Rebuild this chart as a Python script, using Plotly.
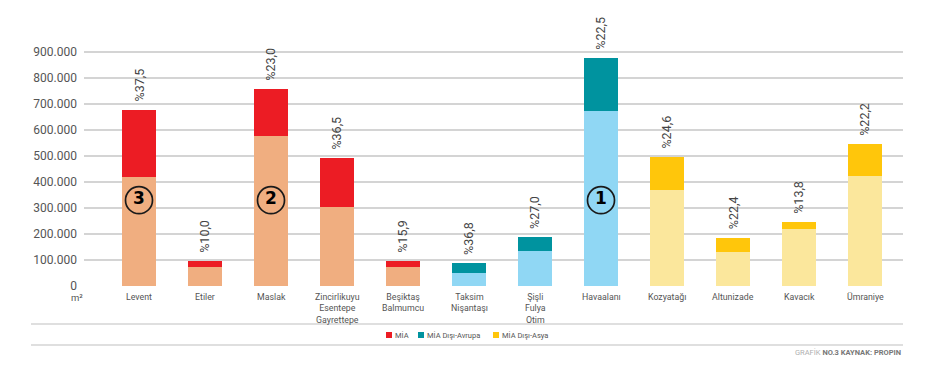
import plotly.graph_objects as go

# ---------------- data ----------------
categories = ["Levent", "Etiler", "Maslak", "Zincirlikuyu Esentepe Gayrettepe",
              "Beşiktaş Balmumcu", "Taksim Nişantaşı", "Şişli Fulya Otim",
              "Havaalanı", "Kozyatağı", "Altunizade", "Kavacık", "Ümraniye"]
label_lines = [["Levent"], ["Etiler"], ["Maslak"], ["Zincirlikuyu", "Esentepe", "Gayrettepe"],
               ["Beşiktaş", "Balmumcu"], ["Taksim", "Nişantaşı"], ["Şişli", "Fulya", "Otim"],
               ["Havaalanı"], ["Kozyatağı"], ["Altunizade"], ["Kavacık"], ["Ümraniye"]]
groups = ["MİA", "MİA", "MİA", "MİA", "MİA",
          "MİA Dışı-Avrupa", "MİA Dışı-Avrupa", "MİA Dışı-Avrupa",
          "MİA Dışı-Asya", "MİA Dışı-Asya", "MİA Dışı-Asya", "MİA Dışı-Asya"]
occupied = [420000, 74000, 577000, 303000, 72000, 50000, 134000, 674000, 368000, 131000, 218000, 423000]
vacant = [257000, 21000, 180000, 189000, 23000, 37000, 53000, 202000, 128000, 55000, 27000, 122000]
vacancy_labels = ["%37,5", "%10,0", "%23,0", "%36,5", "%15,9", "%36,8", "%27,0",
                  "%22,5", "%24,6", "%22,4", "%13,8", "%22,2"]
rank_cats = ["Levent", "Maslak", "Havaalanı"]
rank_vals = [330000, 330000, 330000]
rank_text = ["3", "2", "1"]
y_ticks = [0, 100000, 200000, 300000, 400000, 500000, 600000, 700000, 800000, 900000]

group_order = ["MİA", "MİA Dışı-Avrupa", "MİA Dışı-Asya"]
light_colors = {"MİA": "#F0AE80", "MİA Dışı-Avrupa": "#90D7F4", "MİA Dışı-Asya": "#FBE79C"}
dark_colors = {"MİA": "#EC1C24", "MİA Dışı-Avrupa": "#00939F", "MİA Dışı-Asya": "#FFC60B"}

# ---------------- layout geometry (page pixels; page has an 8px body margin) ----------------
OFF = 8
W, H = 949 - OFF, 370 - OFF
L, R = 84 - OFF, 903 - OFF
T, B = 6, 286 - OFF
PX_PER_UNIT = 66.0
PX_PER_100K = 26.0
CX0 = 139 - OFF
x_range = [-(CX0 - L) / PX_PER_UNIT, (R - CX0) / PX_PER_UNIT]
y_range = [0, (B - T) / PX_PER_100K * 100000]


def px(xp):
    return (xp - OFF - L) / (R - L)


def py(yp):
    return (B - (yp - OFF)) / (B - T)


fig = go.Figure()

for g in group_order:
    fig.add_trace(go.Bar(
        x=categories,
        y=[o if gg == g else None for o, gg in zip(occupied, groups)],
        marker=dict(color=light_colors[g], line=dict(width=0)),
        showlegend=False, hoverinfo="skip"))
for g in group_order:
    fig.add_trace(go.Bar(
        x=categories,
        y=[v if gg == g else None for v, gg in zip(vacant, groups)],
        marker=dict(color=dark_colors[g], line=dict(width=0)),
        name=g, showlegend=False))

fig.add_trace(go.Scatter(
    x=rank_cats, y=rank_vals, mode="markers+text",
    text=["<b>%s</b>" % t for t in rank_text],
    textposition="middle center",
    textfont=dict(family="DejaVu Sans", size=17, color="#000"),
    marker=dict(symbol="circle-open", size=27, color="#1a1a1a", line=dict(width=1.7)),
    showlegend=False, hoverinfo="skip"))

annotations = []
# vacancy labels
for c, o, v, t in zip(categories, occupied, vacant, vacancy_labels):
    annotations.append(dict(x=c, y=o + v, xref="x", yref="y", text=t, textangle=-90,
                            showarrow=False, yanchor="bottom", xanchor="center", yshift=6,
                            font=dict(family="Roboto", size=12.5, color="#444")))
# category labels
for c, lines in zip(categories, label_lines):
    annotations.append(dict(x=c, y=0, xref="x", yref="y", text="<br>".join(lines),
                            showarrow=False, yanchor="top", xanchor="center", yshift=-4,
                            align="center",
                            font=dict(family="Roboto", size=8.8, color="#555")))
# unit label
annotations.append(dict(x=px(77), y=py(297), xref="paper", yref="paper", text="m²",
                        showarrow=False, xanchor="center", yanchor="middle",
                        font=dict(family="Roboto", size=9.5, color="#555")))
# manual legend
legend_x = [386, 418, 493]
for g, lx in zip(group_order, legend_x):
    annotations.append(dict(x=px(lx + 7), y=py(335), xref="paper", yref="paper", text=g,
                            showarrow=False, xanchor="left", yanchor="middle",
                            font=dict(family="Roboto", size=7.5, color="#555")))
# footer
annotations.append(dict(x=px(903), y=py(352), xref="paper", yref="paper",
                        text="<span style='color:#b0b0b0'>GRAFİK</span> <b>NO.3 KAYNAK: PROPIN</b>",
                        showarrow=False, xanchor="right", yanchor="middle",
                        font=dict(family="Roboto", size=7.5, color="#777")))

shapes = []
for g, lx in zip(group_order, legend_x):
    shapes.append(dict(type="rect", xref="paper", yref="paper",
                       x0=px(lx), x1=px(lx + 6), y0=py(338), y1=py(332),
                       fillcolor=dark_colors[g], line=dict(width=0)))
for yl in (324, 345):
    shapes.append(dict(type="line", xref="paper", yref="paper",
                       x0=px(31), x1=px(903), y0=py(yl), y1=py(yl),
                       line=dict(color="#d4d4d4", width=1.5)))

fig.update_layout(
    width=W, height=H,
    margin=dict(l=L, r=W - R, t=T, b=H - B, pad=0),
    barmode="stack", bargap=1 - 34 / 66.0,
    plot_bgcolor="white", paper_bgcolor="white",
    separators=",.",
    showlegend=False,
    annotations=annotations, shapes=shapes,
    font=dict(family="Roboto", color="#555"),
)
fig.update_xaxes(type="category", range=x_range, showticklabels=False, showgrid=False,
                 zeroline=False, showline=False, ticks="")
fig.update_yaxes(range=y_range, tickvals=y_ticks, tickformat=",d", showgrid=True,
                 gridcolor="#d4d4d4", gridwidth=1.5, zeroline=False, showline=False,
                 ticks="", ticklabelstandoff=6,
                 tickfont=dict(family="Roboto", size=12, color="#555"))

fig.write_html("out.html")
